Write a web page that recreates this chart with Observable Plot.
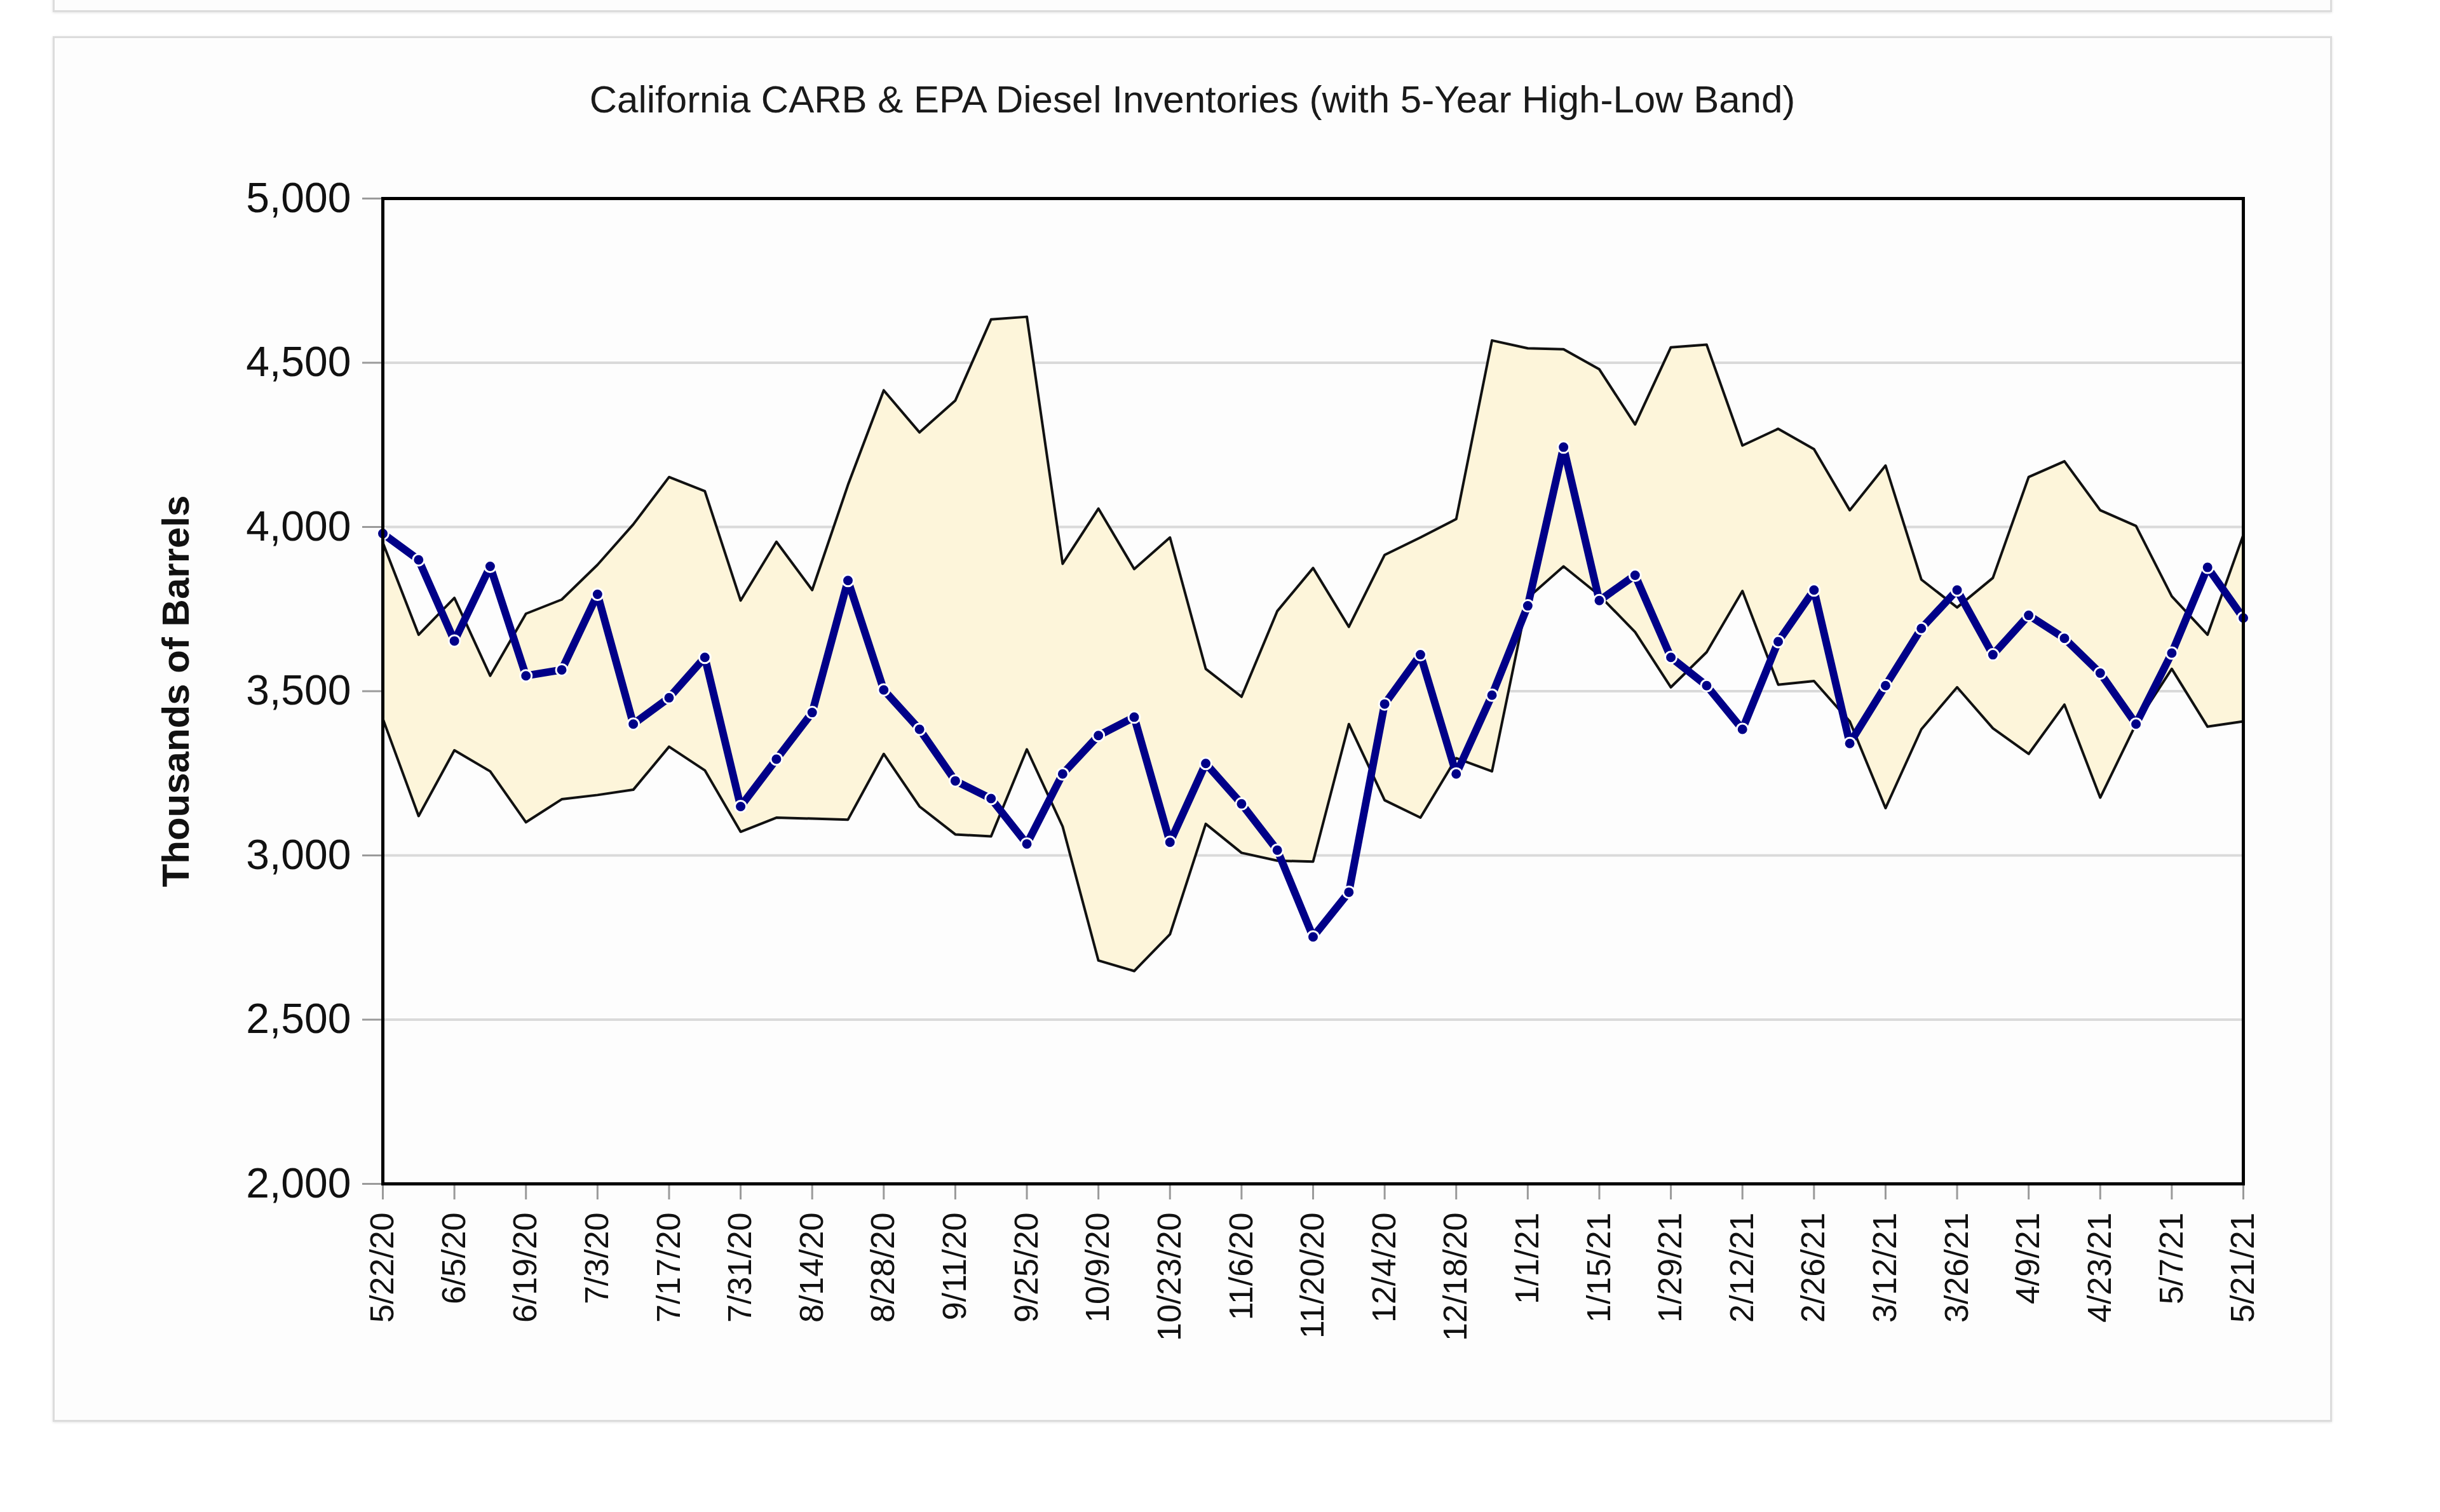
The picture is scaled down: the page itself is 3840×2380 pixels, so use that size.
<!DOCTYPE html>
<html>
<head>
<meta charset="utf-8">
<script src="https://cdn.jsdelivr.net/npm/d3@7"></script>
<script src="https://cdn.jsdelivr.net/npm/@observablehq/plot@0.6"></script>
<style>
  html, body { margin: 0; padding: 0; background: #ffffff; width: 3840px; height: 2380px; overflow: hidden; }
  .card { position: absolute; box-sizing: border-box; border: 3px solid #dcdcdc; box-shadow: 0 1px 4px rgba(0,0,0,0.12); background: #fdfdfd; }
  #title { position: absolute; left: 83px; width: 3587px; top: 127px; text-align: center;
           font-family: "Liberation Sans", Arial, sans-serif; font-size: 60px; line-height: 60px; color: #1a1a1a; }
  #chart { position: absolute; left: 0; top: 0; }
</style>
</head>
<body>
<div class="card" style="left:83px; top:-200px; width:3587px; height:219px;"></div>
<div class="card" style="left:83px; top:57px; width:3587px; height:2181px;"></div>
<div id="title">California CARB &amp; EPA Diesel Inventories (with 5-Year High-Low Band)</div>
<div id="chart"></div>
<script>
// Weekly dates (M/D/YY)
const dates = [
  "5/22/20","5/29/20","6/5/20","6/12/20","6/19/20","6/26/20","7/3/20","7/10/20","7/17/20","7/24/20",
  "7/31/20","8/7/20","8/14/20","8/21/20","8/28/20","9/4/20","9/11/20","9/18/20","9/25/20","10/2/20",
  "10/9/20","10/16/20","10/23/20","10/30/20","11/6/20","11/13/20","11/20/20","11/27/20","12/4/20","12/11/20",
  "12/18/20","12/25/20","1/1/21","1/8/21","1/15/21","1/22/21","1/29/21","2/5/21","2/12/21","2/19/21",
  "2/26/21","3/5/21","3/12/21","3/19/21","3/26/21","4/2/21","4/9/21","4/16/21","4/23/21","4/30/21",
  "5/7/21","5/14/21","5/21/21"
];
// Current inventories (thousands of barrels)
const inventory = [
  3980,3900,3653,3880,3547,3565,3795,3400,3480,3603,
  3149,3293,3435,3837,3504,3384,3227,3173,3035,3248,
  3365,3421,3040,3280,3157,3016,2752,2888,3461,3611,
  3248,3488,3760,4243,3776,3853,3603,3517,3384,3651,
  3808,3341,3517,3691,3808,3611,3731,3661,3555,3400,
  3616,3877,3723
];
// 5-year high
const high5 = [
  3952,3672,3784,3547,3736,3779,3885,4008,4152,4109,
  3776,3955,3808,4128,4416,4288,4385,4632,4640,3888,
  4056,3872,3968,3568,3483,3744,3875,3696,3915,3968,
  4024,4568,4544,4541,4480,4312,4547,4555,4248,4299,
  4237,4051,4187,3840,3755,3845,4152,4200,4051,4003,
  3789,3672,3976
];
// 5-year low
const low5 = [
  3416,3120,3320,3256,3101,3171,3184,3200,3331,3259,
  3072,3115,3112,3109,3309,3149,3064,3058,3323,3088,
  2680,2648,2760,3096,3008,2984,2981,3400,3168,3115,
  3296,3256,3784,3880,3792,3680,3512,3619,3805,3520,
  3531,3408,3144,3384,3512,3387,3309,3459,3176,3400,
  3568,3392,3408
];
const yTicks = [2000, 2500, 3000, 3500, 4000, 4500, 5000];
const gridValues = [2500, 3000, 3500, 4000, 4500];
const tickLabels = [
  "5/22/20","6/5/20","6/19/20","7/3/20","7/17/20","7/31/20","8/14/20","8/28/20","9/11/20","9/25/20",
  "10/9/20","10/23/20","11/6/20","11/20/20","12/4/20","12/18/20","1/1/21","1/15/21","1/29/21","2/12/21",
  "2/26/21","3/12/21","3/26/21","4/9/21","4/23/21","5/7/21","5/21/21"
];
const yTitle = "Thousands of Barrels";

function parseMDY(s) {
  const [m, d, y] = s.split("/").map(Number);
  return new Date(Date.UTC(2000 + y, m - 1, d));
}
const fmt = (d) => `${d.getUTCMonth() + 1}/${d.getUTCDate()}/${String(d.getUTCFullYear()).slice(2)}`;

const rows = dates.map((s, i) => ({ date: parseMDY(s), inv: inventory[i], high: high5[i], low: low5[i] }));
const tickDates = tickLabels.map(parseMDY);
const yDomain = [2000, 5000];

const chart = Plot.plot({
  width: 3840,
  height: 2380,
  marginLeft: 602,
  marginRight: 310,
  marginTop: 312,
  marginBottom: 517,
  style: { fontFamily: "'Liberation Sans', Arial, sans-serif", fontSize: "52px", background: "transparent", color: "#111" },
  x: { type: "utc", domain: [rows[0].date, rows[rows.length - 1].date] },
  y: { domain: yDomain },
  marks: [
    Plot.gridY(gridValues, { stroke: "#dadada", strokeOpacity: 1, strokeWidth: 4 }),
    Plot.areaY(rows, { x: "date", y1: "low", y2: "high", fill: "#fdf5da", curve: "linear" }),
    Plot.lineY(rows, { x: "date", y: "high", stroke: "#111", strokeWidth: 4, curve: "linear" }),
    Plot.lineY(rows, { x: "date", y: "low", stroke: "#111", strokeWidth: 4, curve: "linear" }),
    Plot.lineY(rows, { x: "date", y: "inv", stroke: "#000088", strokeWidth: 12, curve: "linear", strokeLinejoin: "round" }),
    Plot.dot(rows, { x: "date", y: "inv", r: 9, fill: "#000088", stroke: "#ffffff", strokeWidth: 3 }),
    Plot.axisY({ ticks: yTicks, tickFormat: d3.format(","), tickSize: 32, tickPadding: 18, fontSize: 66,
                 stroke: "#9a9a9a", strokeWidth: 3, label: null }),
    Plot.axisX({ ticks: tickDates, tickFormat: fmt, tickRotate: -90, tickSize: 25, tickPadding: 20, fontSize: 52,
                 stroke: "#9a9a9a", strokeWidth: 3, label: null }),
    Plot.frame({ stroke: "#000", strokeWidth: 5 }),
    Plot.text([yTitle], { frameAnchor: "left", y: [(yDomain[0] + yDomain[1]) / 2], text: (d) => d, dx: -325, rotate: -90,
                          textAnchor: "middle", lineAnchor: "middle", fontSize: 60, fontWeight: "bold", fill: "#111" })
  ]
});
document.getElementById("chart").appendChild(chart);
</script>
</body>
</html>
